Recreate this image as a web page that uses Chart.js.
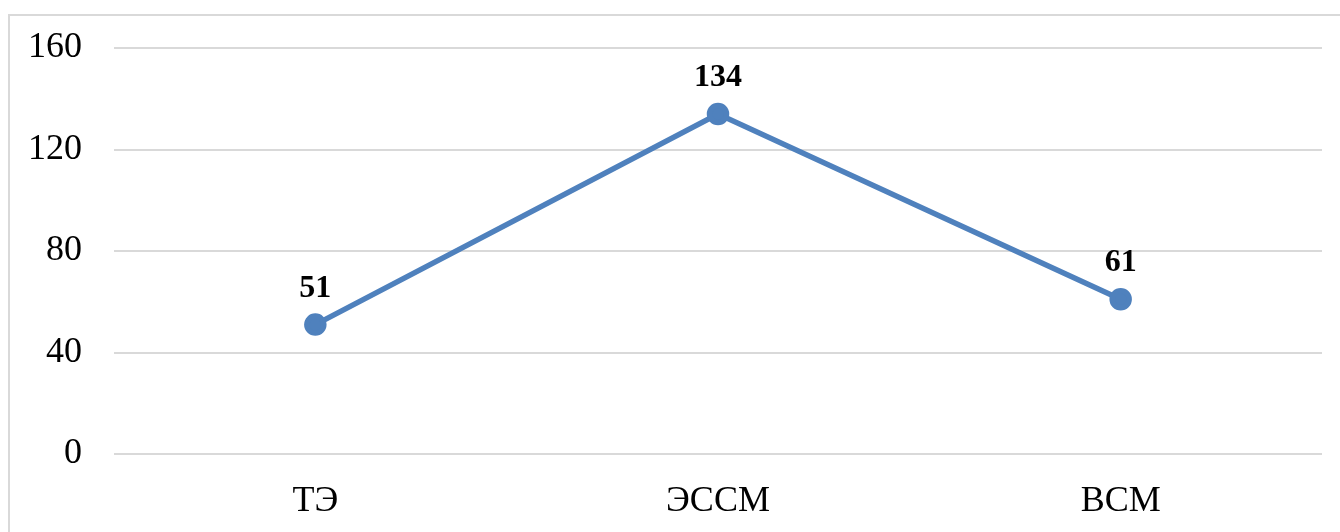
<!DOCTYPE html>
<html>
<head>
<meta charset="utf-8">
<script src="https://cdn.jsdelivr.net/npm/chart.js@4"></script>
<style>
  html, body { margin: 0; padding: 0; background: #fff; }
  #wrap { width: 1340px; height: 532px; position: relative; }
</style>
</head>
<body>
<div id="wrap"><canvas id="lineChart"></canvas></div>
<script>
// Data for the chart
const categories = ['ТЭ', 'ЭССМ', 'ВСМ'];
const values = [51, 134, 61];
const yTicks = [0, 40, 80, 120, 160];

const lineColor = '#4F81BD';

// frame around the chart + point labels
const framePlugin = {
    id: 'frame',
    beforeDraw(chart) {
        const ctx = chart.ctx;
        ctx.save();
        ctx.strokeStyle = '#d9d9d9';
        ctx.lineWidth = 2;
        ctx.strokeRect(9, 15, 1340, 600);
        ctx.restore();
    },
    afterDatasetsDraw(chart) {
        const ctx = chart.ctx;
        const meta = chart.getDatasetMeta(0);
        ctx.save();
        ctx.font = 'bold 32px "Liberation Serif"';
        ctx.fillStyle = '#000';
        ctx.textAlign = 'center';
        ctx.textBaseline = 'middle';
        meta.data.forEach((pt, i) => {
            ctx.fillText(String(values[i]), pt.x, pt.y - 36);
        });
        ctx.restore();
    }
};

const lineChart = new Chart(document.getElementById('lineChart'), {
    type: 'line',
    data: {
        labels: categories,
        datasets: [{
            data: values,
            borderColor: lineColor,
            backgroundColor: lineColor,
            borderWidth: 5.5,
            pointRadius: 8.5,
            pointHoverRadius: 8.5,
            tension: 0
        }]
    },
    options: {
        responsive: true,
        maintainAspectRatio: false,
        animation: false,
        layout: {
            padding: { top: 20, right: 18, left: 0, bottom: 0 }
        },
        plugins: {
            legend: { display: false },
            tooltip: { enabled: false }
        },
        scales: {
            x: {
                offset: true,
                grid: { display: false },
                border: { display: false },
                ticks: {
                    color: '#000',
                    padding: 18,
                    font: { family: 'Liberation Serif', size: 36 }
                },
                afterFit(s) { s.height = 78; }
            },
            y: {
                min: 0,
                max: 160,
                afterBuildTicks(s) { s.ticks = yTicks.map(v => ({ value: v })); },
                grid: { color: '#d9d9d9', lineWidth: 2, drawTicks: false },
                border: { display: false },
                ticks: {
                    color: '#000',
                    padding: 32,
                    font: { family: 'Liberation Serif', size: 36, lineHeight: 0.889 }
                },
                afterFit(s) { s.width = 114; }
            }
        }
    },
    plugins: [framePlugin]
});
</script>
</body>
</html>
